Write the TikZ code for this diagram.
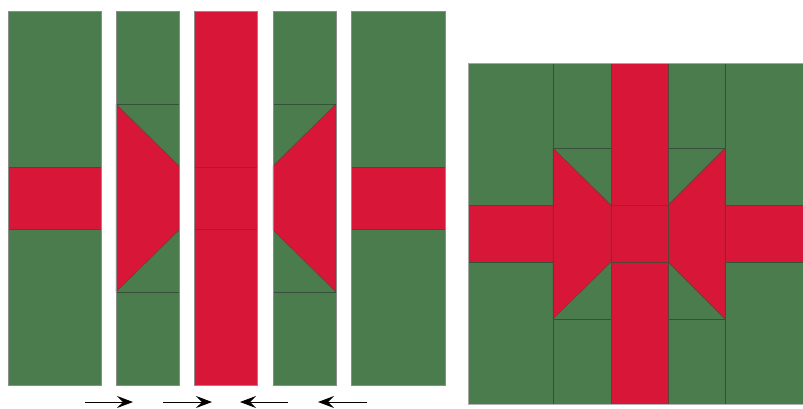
\documentclass[tikz,border=0pt]{standalone}
\usetikzlibrary{arrows.meta}
\definecolor{qgreen}{RGB}{74,124,77}
\definecolor{qred}{RGB}{216,22,55}
\definecolor{qline}{RGB}{55,80,58}
\tikzset{
  gpatch/.style={fill=qgreen,draw=qline,line width=0.4pt},
  rpatch/.style={fill=qred,draw=qline!80!qred,line width=0.4pt},
  outerbox/.style={draw=black!45,line width=0.6pt},
  movearrow/.style={-{Stealth[length=16pt,width=12pt,inset=6pt]},line width=1pt,black}
}
\begin{document}
\begin{tikzpicture}[x=1pt,y=-1pt]
\useasboundingbox (0,0) rectangle (803,408);
% ---------- column 1 ----------
\fill[qgreen] (8,11) rectangle (101,385);
\draw[rpatch] (8,167) rectangle (101,229);
\draw[outerbox] (8,11) rectangle (101,385);
% ---------- column 2 ----------
\fill[qgreen] (116,11) rectangle (179,385);
\draw[gpatch] (116,11) rectangle (179,104);
\draw[gpatch] (116,292) rectangle (179,385);
\draw[rpatch] (116,104) -- (179,166) -- (179,230) -- (116,292) -- cycle;
\draw[qline,line width=0.4pt] (116,104) -- (179,104) (116,292) -- (179,292);
\draw[outerbox] (116,11) rectangle (179,385);
% ---------- column 3 ----------
\draw[rpatch] (194,11) rectangle (257,167);
\draw[rpatch] (194,167) rectangle (257,229);
\draw[rpatch] (194,229) rectangle (257,385);
\draw[outerbox] (194,11) rectangle (257,385);
% ---------- column 4 ----------
\fill[qgreen] (273,11) rectangle (336,385);
\draw[gpatch] (273,11) rectangle (336,104);
\draw[gpatch] (273,292) rectangle (336,385);
\draw[rpatch] (336,104) -- (273,166) -- (273,230) -- (336,292) -- cycle;
\draw[qline,line width=0.4pt] (273,104) -- (336,104) (273,292) -- (336,292);
\draw[outerbox] (273,11) rectangle (336,385);
% ---------- column 5 ----------
\fill[qgreen] (351,11) rectangle (445,385);
\draw[rpatch] (351,167) rectangle (445,229);
\draw[outerbox] (351,11) rectangle (445,385);
% ---------- arrows ----------
\coordinate (a1s) at (85,402);  \coordinate (a1e) at (133,402);
\coordinate (a2s) at (163,402); \coordinate (a2e) at (212,402);
\coordinate (a3s) at (288,402); \coordinate (a3e) at (240,402);
\coordinate (a4s) at (367,402); \coordinate (a4e) at (318,402);
\draw[movearrow] (a1s) -- (a1e);
\draw[movearrow] (a2s) -- (a2e);
\draw[movearrow] (a3s) -- (a3e);
\draw[movearrow] (a4s) -- (a4e);
% ---------- assembled block ----------
\begin{scope}
\clip (468,63) rectangle (803,404);
\fill[qgreen] (468,63) rectangle (810,404);
% side columns
\draw[gpatch] (468,63) rectangle (553,205);
\draw[rpatch] (468,205) rectangle (553,262);
\draw[gpatch] (468,262) rectangle (553,404);
\draw[gpatch] (725,63) rectangle (810,205);
\draw[rpatch] (725,205) rectangle (810,262);
\draw[gpatch] (725,262) rectangle (810,404);
% bow columns
\draw[gpatch] (553,63) rectangle (611,148);
\draw[gpatch] (553,319) rectangle (611,404);
\draw[gpatch] (553,148) rectangle (611,319);
\draw[rpatch] (553,148) -- (611,205) -- (611,262) -- (553,319) -- cycle;
\draw[gpatch] (668,63) rectangle (725,148);
\draw[gpatch] (668,319) rectangle (725,404);
\draw[gpatch] (668,148) rectangle (725,319);
\draw[rpatch] (725,148) -- (668,205) -- (668,262) -- (725,319) -- cycle;
% centre column
\draw[rpatch] (611,63) rectangle (668,205);
\draw[rpatch] (611,205) rectangle (668,262);
\draw[rpatch] (611,262) rectangle (668,404);
\draw[qline,line width=0.5pt] (553,63) -- (553,404) (725,63) -- (725,404);
\end{scope}
\draw[draw=black!35,line width=0.6pt] (468,404) -- (468,63) -- (803,63);
\draw[draw=black!30,line width=0.5pt] (468,404) -- (803,404);
\end{tikzpicture}
\end{document}
